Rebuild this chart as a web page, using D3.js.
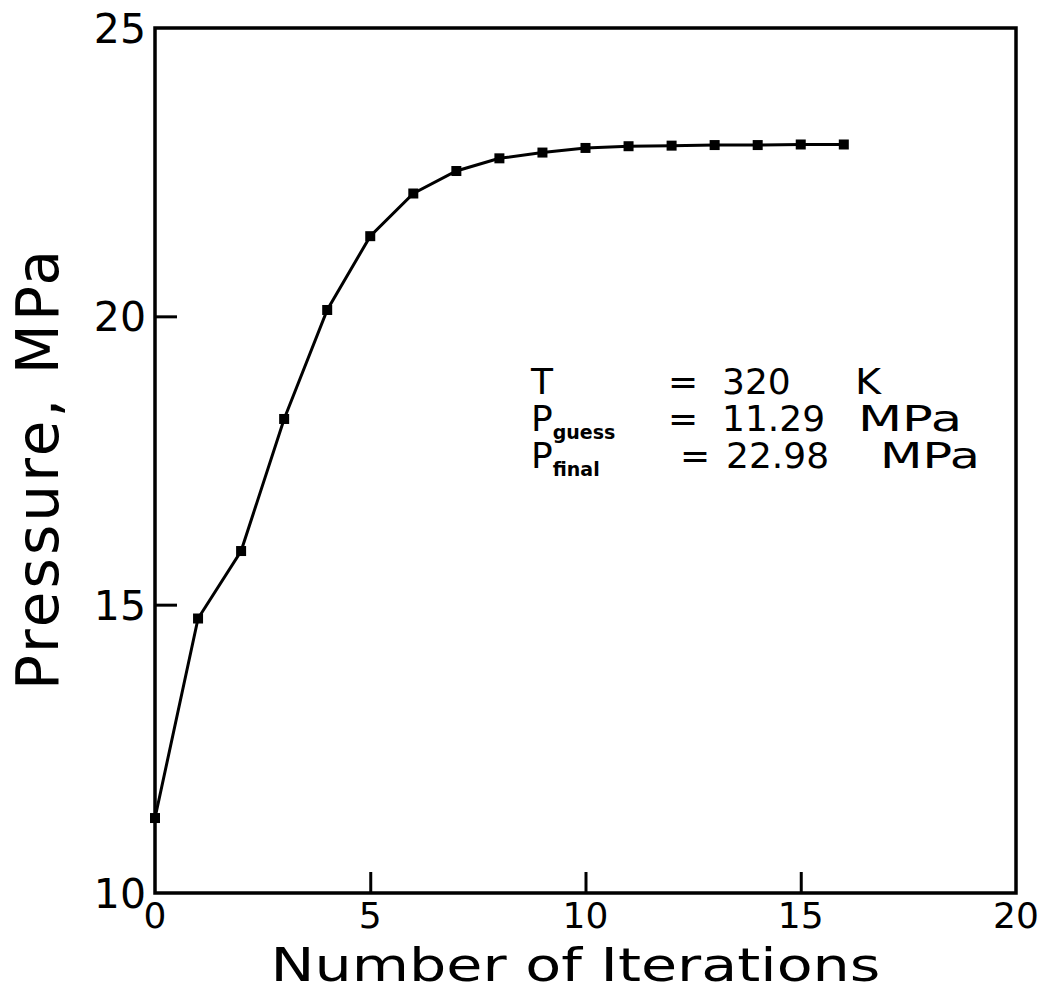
<!DOCTYPE html>
<html>
<head>
<meta charset="utf-8">
<script src="https://cdn.jsdelivr.net/npm/d3@7"></script>
<style>
  body { margin: 0; background: #fff; }
  text { font-family: "DejaVu Sans", sans-serif; fill: #000; }
</style>
</head>
<body>
<script>
// Data
var iterations = [0, 1, 2, 3, 4, 5, 6, 7, 8, 9, 10, 11, 12, 13, 14, 15, 16];
var pressure = [11.30, 14.76, 15.93, 18.22, 20.11, 21.39, 22.13, 22.52, 22.74,
                22.84, 22.92, 22.95, 22.96, 22.97, 22.97, 22.98, 22.98];
var xTicks = [0, 5, 10, 15, 20];
var yTicks = [10, 15, 20, 25];
var notes = [
  { main: "T", sub: "", eq: "=", value: "320", unit: "K" },
  { main: "P", sub: "guess", eq: "=", value: "11.29", unit: "MPa" },
  { main: "P", sub: "final", eq: "=", value: "22.98", unit: "MPa" }
];

var svgWidth = 1048;
var svgHeight = 998;

var chartMargin = { top: 28, right: 32, bottom: 105, left: 155 };
var chartWidth = svgWidth - chartMargin.left - chartMargin.right;
var chartHeight = svgHeight - chartMargin.top - chartMargin.bottom;

var svg = d3.select("body")
  .append("svg")
  .attr("width", svgWidth)
  .attr("height", svgHeight);

var chartGroup = svg.append("g")
  .attr("transform", `translate(${chartMargin.left}, ${chartMargin.top})`);

var xScale = d3.scaleLinear().domain([0, 20]).range([0, chartWidth]);
var yScale = d3.scaleLinear().domain([10, 25]).range([chartHeight, 0]);

// inner ticks only, labels are drawn separately
var bottomAxis = d3.axisBottom(xScale).tickValues(xTicks.slice(1, -1)).tickSize(-21).tickFormat("");
var leftAxis = d3.axisLeft(yScale).tickValues(yTicks.slice(1, -1)).tickSize(-22).tickFormat("");

chartGroup.append("g")
  .attr("transform", `translate(0, ${chartHeight})`)
  .call(bottomAxis)
  .call(g => g.select(".domain").remove())
  .selectAll("line").attr("stroke", "#000").attr("stroke-width", 3);

chartGroup.append("g")
  .call(leftAxis)
  .call(g => g.select(".domain").remove())
  .selectAll("line").attr("stroke", "#000").attr("stroke-width", 3);

// frame
chartGroup.append("rect")
  .attr("x", 0).attr("y", 0)
  .attr("width", chartWidth).attr("height", chartHeight)
  .attr("fill", "none")
  .attr("stroke", "#000")
  .attr("stroke-width", 3.5);

// tick labels
chartGroup.selectAll(".xlab")
  .data(xTicks)
  .enter()
  .append("text")
  .attr("x", d => xScale(d))
  .attr("y", chartHeight + 35)
  .attr("text-anchor", "middle")
  .attr("font-size", 36)
  .text(d => d);

chartGroup.selectAll(".ylab")
  .data(yTicks)
  .enter()
  .append("text")
  .attr("x", -9)
  .attr("y", d => yScale(d) + 15)
  .attr("text-anchor", "end")
  .attr("font-size", 41)
  .text(d => d);

// axis titles
svg.append("text")
  .attr("x", chartMargin.left + chartWidth / 2 - 10)
  .attr("y", 981)
  .attr("text-anchor", "middle")
  .attr("font-size", 47)
  .attr("textLength", 610)
  .attr("lengthAdjust", "spacingAndGlyphs")
  .text("Number  of  Iterations");

svg.append("text")
  .attr("transform", "translate(58, 470) rotate(-90)")
  .attr("text-anchor", "middle")
  .attr("font-size", 58)
  .attr("textLength", 440)
  .attr("lengthAdjust", "spacing")
  .text("Pressure,  MPa");

// line and markers
var line = d3.line()
  .x((d, i) => xScale(iterations[i]))
  .y(d => yScale(d));

chartGroup.append("path")
  .datum(pressure)
  .attr("d", line)
  .attr("fill", "none")
  .attr("stroke", "#000")
  .attr("stroke-width", 3);

chartGroup.selectAll(".pt")
  .data(pressure)
  .enter()
  .append("rect")
  .attr("class", "pt")
  .attr("x", (d, i) => xScale(iterations[i]) - 5)
  .attr("y", d => yScale(d) - 5)
  .attr("width", 10)
  .attr("height", 10)
  .attr("fill", "#000");

// annotation block
var noteY = [394, 431, 468];
var eqX = [668, 668, 680];
var valueX = [722, 722, 726];
var unitX = [855, 858, 880];
var unitLen = [26, 104, 100];
var noteGroup = svg.append("g").attr("font-size", 36);

notes.forEach(function(n, i) {
  var t = noteGroup.append("text").attr("x", 531).attr("y", noteY[i]);
  t.append("tspan").text(n.main);
  if (n.sub) {
    t.append("tspan")
      .attr("dy", 8)
      .attr("font-size", 19)
      .attr("font-weight", "bold")
      .text(n.sub);
  }
  noteGroup.append("text").attr("x", eqX[i]).attr("y", noteY[i]).text(n.eq);
  noteGroup.append("text").attr("x", valueX[i]).attr("y", noteY[i]).text(n.value);
  noteGroup.append("text").attr("x", unitX[i]).attr("y", noteY[i])
    .attr("textLength", unitLen[i]).attr("lengthAdjust", "spacingAndGlyphs").text(n.unit);
});
</script>
</body>
</html>
